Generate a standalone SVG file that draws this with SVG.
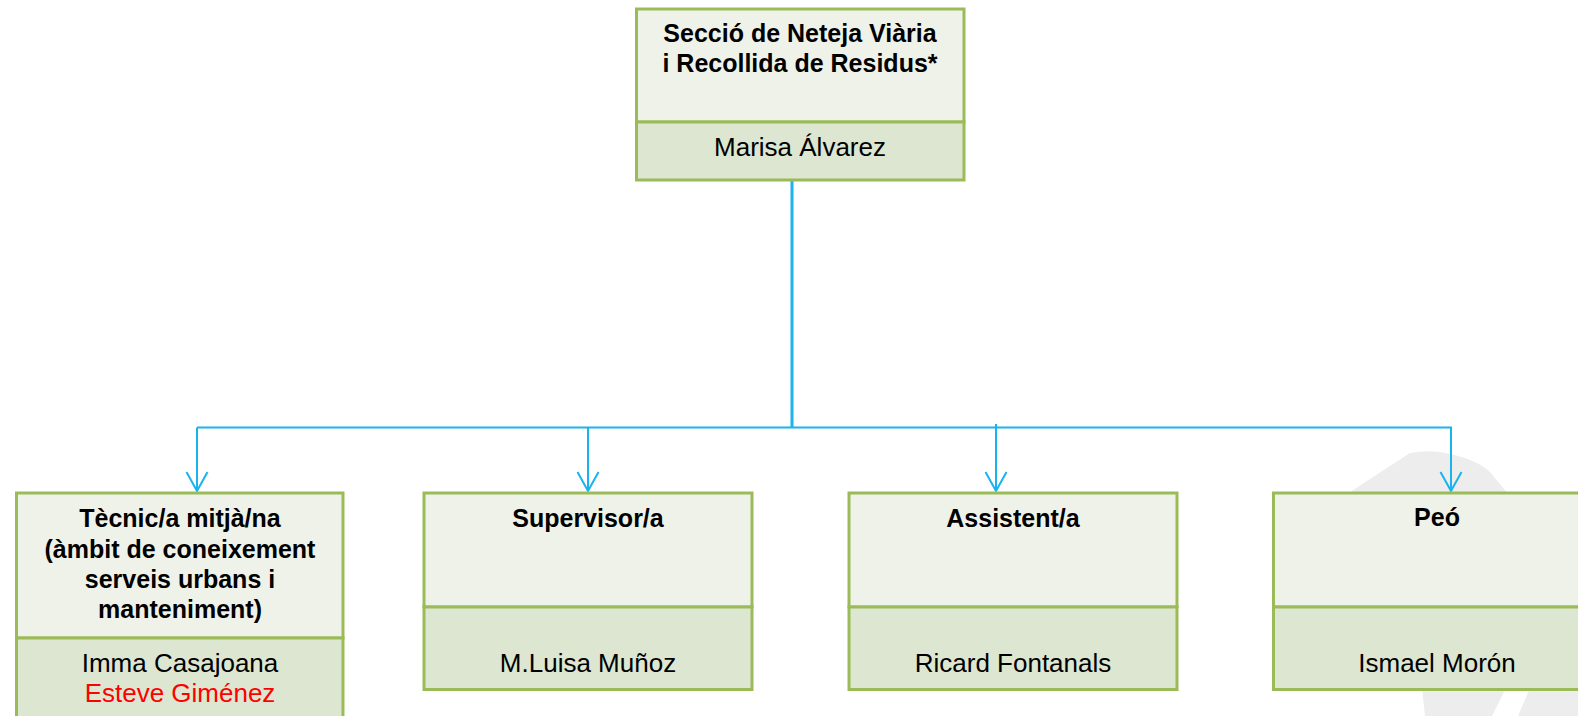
<svg xmlns="http://www.w3.org/2000/svg" width="1578" height="716" viewBox="0 0 1578 716">
<style>
.hd{fill:#EFF2E9;stroke:#9BBB59;stroke-width:3}
.nm{fill:#DDE6D1;stroke:#9BBB59;stroke-width:3}
.t{font-family:"Liberation Sans",Arial,sans-serif;font-size:25px;font-weight:bold;fill:#000;text-anchor:middle}
.n{font-family:"Liberation Sans",Arial,sans-serif;font-size:26px;fill:#000;text-anchor:middle}
.red{fill:#FF0000}
.c{stroke:#1AB3EE;fill:none}
</style>
<defs>
<marker id="arr" markerUnits="userSpaceOnUse" viewBox="-21 -12 23 24" markerWidth="23" markerHeight="24" refX="0" refY="0" orient="auto">
<path d="M-19,-10.5 L0,0 L-19,10.5" fill="none" stroke="#1AB3EE" stroke-width="2"/>
</marker>
</defs>
<rect width="1578" height="716" fill="#FFFFFF"/>
<g id="watermark" fill="#EDEDED">
<path d="M1347,494 L1410,453 Q1425,450 1440,452 Q1475,458 1490,472 L1508,494 Z"/>
<path d="M1422,688 L1506,688 L1492,716 L1425,716 Z"/>
<path d="M1530,688 L1578,688 L1578,716 L1518,716 Z"/>
</g>
<g id="connectors">
<line class="c" x1="792" y1="180" x2="792" y2="428" stroke-width="3"/>
<polyline class="c" points="197,427.5 1451,427.5 1451,491" stroke-width="2" marker-end="url(#arr)"/>
<line class="c" x1="197" y1="427.5" x2="197" y2="491" stroke-width="2" marker-end="url(#arr)"/>
<line class="c" x1="588" y1="427.5" x2="588" y2="491" stroke-width="2" marker-end="url(#arr)"/>
<line class="c" x1="996" y1="424" x2="996" y2="491" stroke-width="2" marker-end="url(#arr)"/>
</g>
<g id="node-top">
<rect class="hd" x="636.5" y="9" width="327.5" height="113"/>
<rect class="nm" x="636.5" y="122" width="327.5" height="58"/>
<text class="t" x="800" y="42">Secció de Neteja Viària</text>
<text class="t" x="800" y="72">i Recollida de Residus*</text>
<text class="n" x="800" y="156">Marisa Álvarez</text>
</g>
<g id="node-tecnic">
<rect class="hd" x="16.5" y="493" width="326.5" height="145"/>
<rect class="nm" x="16.5" y="638" width="326.5" height="85"/>
<text class="t" x="180" y="527">Tècnic/a mitjà/na</text>
<text class="t" x="180" y="558">(àmbit de coneixement</text>
<text class="t" x="180" y="588">serveis urbans i</text>
<text class="t" x="180" y="618">manteniment)</text>
<text class="n" x="180" y="672">Imma Casajoana</text>
<text class="n red" x="180" y="702">Esteve Giménez</text>
</g>
<g id="node-supervisor">
<rect class="hd" x="424" y="493" width="328" height="114"/>
<rect class="nm" x="424" y="607" width="328" height="82.5"/>
<text class="t" x="588" y="527">Supervisor/a</text>
<text class="n" x="588" y="672">M.Luisa Muñoz</text>
</g>
<g id="node-assistent">
<rect class="hd" x="849" y="493" width="328" height="114"/>
<rect class="nm" x="849" y="607" width="328" height="82.5"/>
<text class="t" x="1013" y="527">Assistent/a</text>
<text class="n" x="1013" y="672">Ricard Fontanals</text>
</g>
<g id="node-peo">
<rect class="hd" x="1273.5" y="493" width="328" height="114"/>
<rect class="nm" x="1273.5" y="607" width="328" height="82.5"/>
<text class="t" x="1437" y="526">Peó</text>
<text class="n" x="1437" y="672">Ismael Morón</text>
</g>
</svg>
